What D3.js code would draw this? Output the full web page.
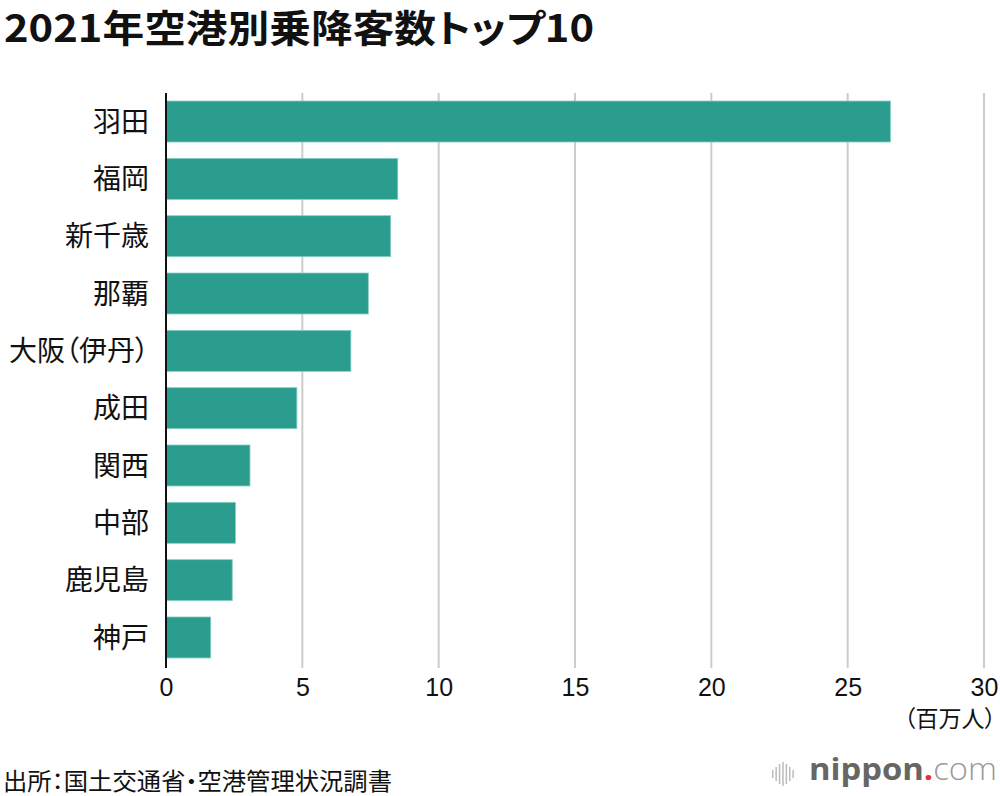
<!DOCTYPE html>
<html>
<head>
<meta charset="utf-8">
<script src="https://cdn.jsdelivr.net/npm/d3@7"></script>
<style>
  body { margin: 0; background: #fff; }
  svg { display: block; font-family: "Noto Sans CJK JP", "Noto Sans", sans-serif; font-feature-settings: "palt"; }
</style>
</head>
<body>
<svg id="chart" width="1000" height="796"></svg>
<script>
const airports = ["羽田", "福岡", "新千歳", "那覇", "大阪（伊丹）", "成田", "関西", "中部", "鹿児島", "神戸"];
const passengers = [26.57, 8.5, 8.24, 7.42, 6.78, 4.8, 3.08, 2.55, 2.43, 1.64];
const xTicks = [0, 5, 10, 15, 20, 25, 30];

const svg = d3.select("#chart");
const margin = { left: 166, right: 16, top: 93, bottom: 130 };
const width = 1000, height = 796;

const x = d3.scaleLinear().domain([0, 30]).range([margin.left, width - margin.right]);
const y = d3.scaleBand()
  .domain(airports)
  .range([margin.top, height - margin.bottom])
  .paddingInner(0.285)
  .paddingOuter(0.14);

// title
svg.append("text")
  .attr("x", 4)
  .attr("y", 42)
  .attr("font-size", 38)
  .attr("font-weight", "bold")
  .attr("fill", "#111")
  .attr("textLength", 590)
  .attr("lengthAdjust", "spacingAndGlyphs")
  .text("2021年空港別乗降客数トップ10");

// gridlines
svg.append("g")
  .selectAll("line")
  .data(xTicks.filter((d) => d > 0))
  .enter()
  .append("line")
  .attr("x1", (d) => x(d))
  .attr("x2", (d) => x(d))
  .attr("y1", margin.top)
  .attr("y2", height - margin.bottom + 2)
  .attr("stroke", "#cccccc")
  .attr("stroke-width", 2);

// bars
svg.append("g")
  .selectAll("rect")
  .data(airports)
  .enter()
  .append("rect")
  .attr("x", x(0))
  .attr("y", (d) => y(d))
  .attr("width", (d, i) => x(passengers[i]) - x(0))
  .attr("height", y.bandwidth())
  .attr("fill", "#2a9d8e")
  .attr("stroke", "#86cfc5")
  .attr("stroke-width", 0.8);

// zero line
svg.append("line")
  .attr("x1", x(0))
  .attr("x2", x(0))
  .attr("y1", margin.top)
  .attr("y2", height - margin.bottom + 2)
  .attr("stroke", "#111")
  .attr("stroke-width", 2);

// category labels
svg.append("g")
  .selectAll("text")
  .data(airports)
  .enter()
  .append("text")
  .attr("x", 149)
  .attr("y", (d) => y(d) + y.bandwidth() / 2)
  .attr("dy", "0.36em")
  .attr("text-anchor", "end")
  .attr("font-size", 28)
  .attr("fill", "#111")
  .text((d) => d);

// x axis labels
const xAxis = d3.axisBottom(x).tickValues(xTicks).tickSize(0).tickPadding(0);
const gx = svg.append("g")
  .attr("transform", `translate(0, ${height - margin.bottom + 30})`)
  .call(xAxis);
gx.select(".domain").remove();
gx.selectAll("text")
  .attr("font-size", 25)
  .attr("fill", "#111")
  .attr("y", 0)
  .attr("dy", 0)
  .style("font-family", "'Liberation Sans Narrow', 'Liberation Sans', sans-serif");

svg.append("text")
  .attr("x", 996)
  .attr("y", 727)
  .attr("text-anchor", "end")
  .attr("font-size", 23)
  .attr("fill", "#111")
  .text("（百万人）");

// source
svg.append("text")
  .attr("x", 3)
  .attr("y", 790)
  .attr("font-size", 24)
  .attr("fill", "#111")
  .attr("textLength", 389)
  .attr("lengthAdjust", "spacingAndGlyphs")
  .text("出所：国土交通省・空港管理状況調書");

// logo
const logo = svg.append("g").attr("transform", "translate(772, 762)");
const barH = [8, 14, 20, 24, 20, 14, 8];
logo.selectAll("rect")
  .data(barH)
  .enter()
  .append("rect")
  .attr("x", (d, i) => i * 3.4)
  .attr("y", (d) => 12 - d / 2)
  .attr("width", 1.5)
  .attr("height", (d) => d)
  .attr("fill", "#bbb");
const lt = logo.append("text")
  .attr("x", 37)
  .attr("y", 18)
  .attr("font-size", 31)
  .attr("textLength", 188)
  .attr("lengthAdjust", "spacingAndGlyphs")
  .style("font-family", "'Open Sans', 'Noto Sans', sans-serif");
lt.append("tspan").attr("font-weight", "bold").attr("fill", "#666").text("nippon");
lt.append("tspan").attr("font-weight", "bold").attr("fill", "#e8312f").text(".");
lt.append("tspan").attr("font-weight", "300").attr("fill", "#999").text("com");
</script>
</body>
</html>
